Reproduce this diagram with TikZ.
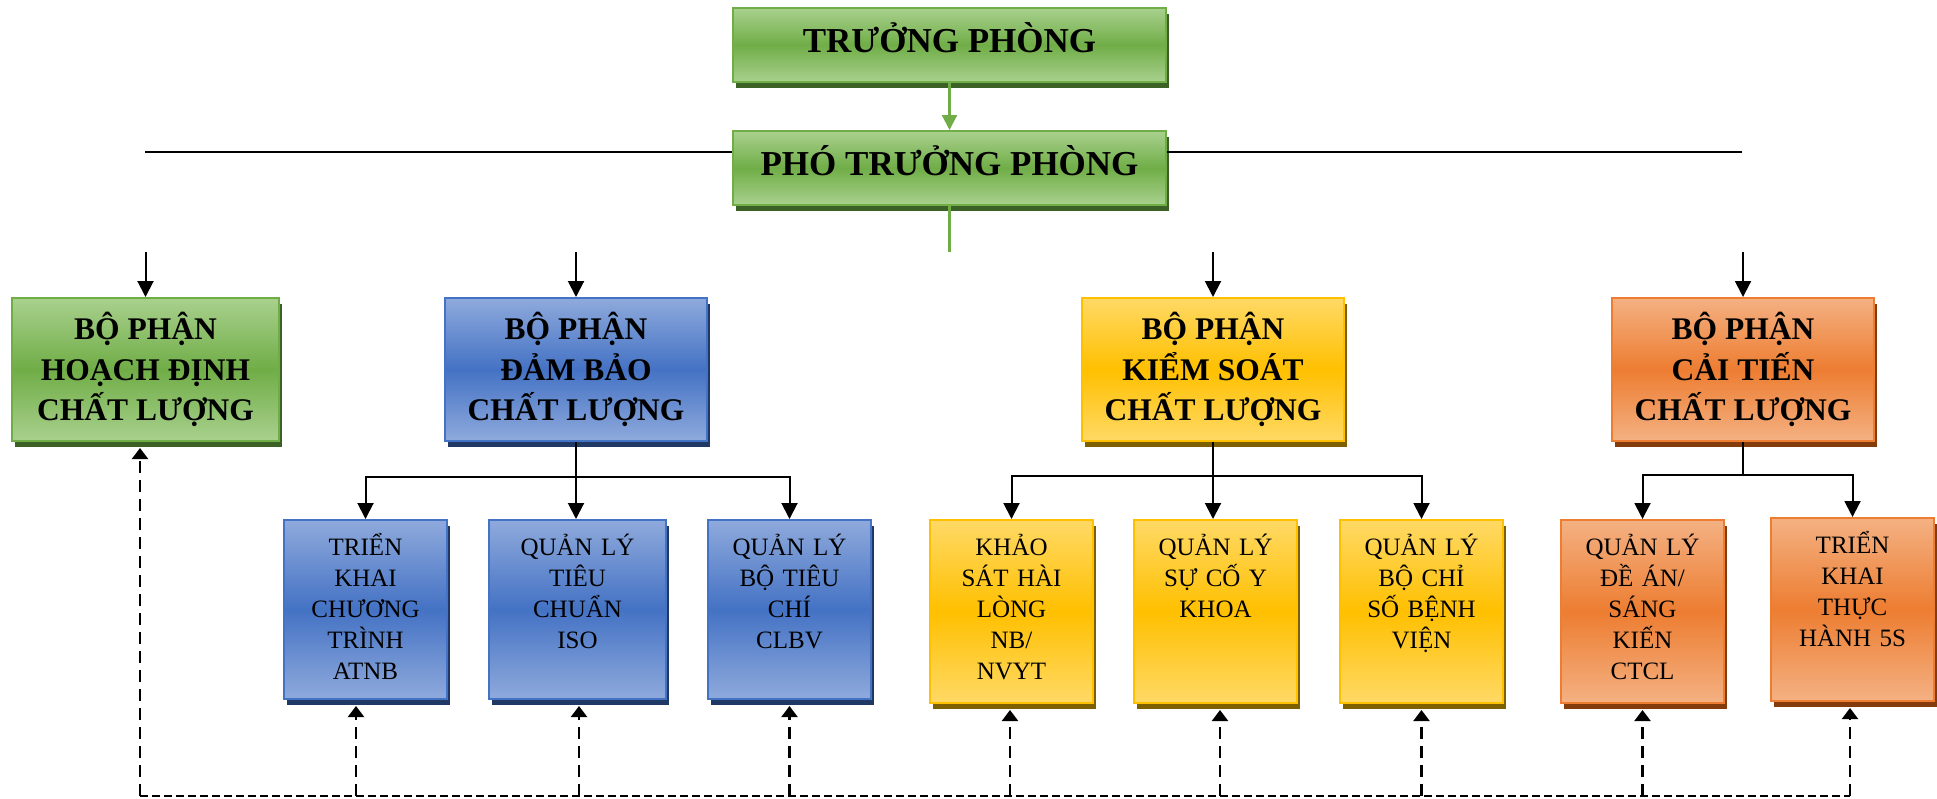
\documentclass[tikz,border=0pt]{standalone}
\usepackage{fontspec}
\setmainfont{Liberation Serif}
\usetikzlibrary{arrows.meta,positioning,shadows,calc}

\definecolor{grnLight}{HTML}{A9D18E}
\definecolor{grnMid}{HTML}{70AD47}
\definecolor{grnDark}{HTML}{3B6126}
\definecolor{bluLight}{HTML}{8FAADC}
\definecolor{bluMid}{HTML}{4472C4}
\definecolor{bluDark}{HTML}{1F3864}
\definecolor{ylwLight}{HTML}{FFD966}
\definecolor{ylwMid}{HTML}{FFC000}
\definecolor{ylwDark}{HTML}{7F6000}
\definecolor{orgLight}{HTML}{F4B183}
\definecolor{orgMid}{HTML}{ED7D31}
\definecolor{orgDark}{HTML}{843C0C}

\begin{document}
\begin{tikzpicture}[
    x=1pt, y=1pt,
    node distance=47pt,
    box/.style={
        rectangle,
        line width=2pt,
        align=center
    },
    greenbox/.style={
        box,
        draw=grnMid,
        top color=grnLight, bottom color=grnLight, middle color=grnMid,
        drop shadow={shadow xshift=3pt, shadow yshift=-6pt, fill=grnDark, opacity=1}
    },
    bluebox/.style={
        box,
        draw=bluMid,
        top color=bluLight, bottom color=bluLight, middle color=bluMid,
        drop shadow={shadow xshift=3pt, shadow yshift=-6pt, fill=bluDark, opacity=1}
    },
    yellowbox/.style={
        box,
        draw=ylwMid,
        top color=ylwLight, bottom color=ylwLight, middle color=ylwMid,
        drop shadow={shadow xshift=3pt, shadow yshift=-6pt, fill=ylwDark, opacity=1}
    },
    orangebox/.style={
        box,
        draw=orgMid,
        top color=orgLight, bottom color=orgLight, middle color=orgMid,
        drop shadow={shadow xshift=3pt, shadow yshift=-6pt, fill=orgDark, opacity=1}
    },
    lead/.style={
        minimum width=433pt,
        minimum height=74pt,
        text height=25pt,
        text depth=10pt,
        font=\fontsize{35}{42}\selectfont\bfseries
    },
    dept/.style={
        minimum width=262pt,
        minimum height=143pt,
        font=\fontsize{31.5}{40.5}\selectfont\bfseries
    },
    unit/.style={
        anchor=north,
        inner sep=0pt,
        text width=163pt,
        text height=35pt,
        text depth=148pt,
        font=\fontsize{25}{31}\selectfont
    },
    link/.style={
        line width=2pt
    },
    arrow/.style={
        -{Triangle[length=16pt,width=16pt]},
        line width=2pt
    },
    garrow/.style={
        -{Triangle[length=15pt,width=15pt]},
        draw=grnMid,
        line width=2.2pt
    },
    gline/.style={
        draw=grnMid,
        line width=2.2pt
    },
    dline/.style={
        dash pattern=on 8pt off 4pt,
        line width=1.8pt
    },
    darrow/.style={
        -{Triangle[length=11pt,width=16pt]},
        dash pattern=on 12pt off 7pt,
        line width=2.2pt,
        shorten >=6pt
    }
]
\useasboundingbox (0,0) rectangle (1937,-798);

% Leadership
\node[greenbox, lead] (truong) at (949.5,-45) {TRƯỞNG PHÒNG};
\node[greenbox, lead, below=of truong] (pho) {PHÓ TRƯỞNG PHÒNG};

% Departments
\node[greenbox, dept, minimum width=267pt] (hoach) at (145.5,-369.5) {BỘ PHẬN\\HOẠCH ĐỊNH\\CHẤT LƯỢNG};
\node[bluebox, dept, right=164pt of hoach] (dambao) {BỘ PHẬN\\ĐẢM BẢO\\CHẤT LƯỢNG};
\node[yellowbox, dept, right=373pt of dambao] (kiemsoat) {BỘ PHẬN\\KIỂM SOÁT\\CHẤT LƯỢNG};
\node[orangebox, dept, right=266pt of kiemsoat] (caitien) {BỘ PHẬN\\CẢI TIẾN\\CHẤT LƯỢNG};

% Units
\node[bluebox, unit, text depth=144pt] (atnb) at (365.5,-519) {TRIỂN\\KHAI\\CHƯƠNG\\TRÌNH\\ATNB};
\node[bluebox, unit, text depth=144pt, text width=177pt] (iso) at (577.5,-519) {QUẢN LÝ\\TIÊU\\CHUẨN\\ISO};
\node[bluebox, unit, text depth=144pt] (clbv) at (789.5,-519) {QUẢN LÝ\\BỘ TIÊU\\CHÍ\\CLBV};
\node[yellowbox, unit] (khao) at (1011.5,-519) {KHẢO\\SÁT HÀI\\LÒNG\\NB/\\NVYT};
\node[yellowbox, unit] (suco) at (1215.5,-519) {QUẢN LÝ\\SỰ CỐ Y\\KHOA};
\node[yellowbox, unit] (bochi) at (1421.5,-519) {QUẢN LÝ\\BỘ CHỈ\\SỐ BỆNH\\VIỆN};
\node[orangebox, unit] (dean) at (1642.5,-519) {QUẢN LÝ\\ĐỀ ÁN/\\SÁNG\\KIẾN\\CTCL};
\node[orangebox, unit] (thuchanh) at (1852.5,-517) {TRIỂN\\KHAI\\THỰC\\HÀNH 5S};

% Top connections
\coordinate (hleft) at (145,-152);
\coordinate (hright) at (1742,-152);
\coordinate (phoend) at (949.5,-252);
\draw[garrow] (truong) -- (pho);
\draw[gline] (pho) -- (phoend);
\draw[link] (hleft) -- (hleft -| pho.west);
\draw[link] (hright -| pho.east) -- (hright);

\foreach \n in {hoach, dambao, kiemsoat, caitien}
    \draw[arrow] (\n.north |- phoend) -- (\n);

% Branches
\coordinate[below=35pt of dambao.south] (dbfork);
\coordinate[below=34pt of kiemsoat.south] (ksfork);
\coordinate[below=33pt of caitien.south] (ctfork);

\draw[link] (dambao) -- (dbfork);
\draw[arrow] (dbfork) -| (atnb);
\draw[arrow] (dbfork) -- (dbfork |- iso.north);
\draw[arrow] (dbfork) -| (clbv);

\draw[link] (kiemsoat) -- (ksfork);
\draw[arrow] (ksfork) -| (khao);
\draw[arrow] (ksfork) -- (ksfork |- suco.north);
\draw[arrow] (ksfork) -| (bochi);

\draw[link] (caitien) -- (ctfork);
\draw[arrow] (ctfork) -| (dean);
\draw[arrow] (ctfork) -| (thuchanh);

% Dashed feedback
\coordinate (dleft) at (140,-796);
\coordinate (dright) at (1850,-796);
\draw[dline] (dleft) -- (dright);
\foreach \n/\dx in {hoach/-5.5, atnb/-9.5, iso/1.5, clbv/0, khao/-1.5, suco/4.5, bochi/0, dean/0, thuchanh/-2.5}
    \draw[darrow] ($(\n.south |- dleft)+(\dx,0)$) -- ($(\n.south)+(\dx,0)$);

\end{tikzpicture}
\end{document}
